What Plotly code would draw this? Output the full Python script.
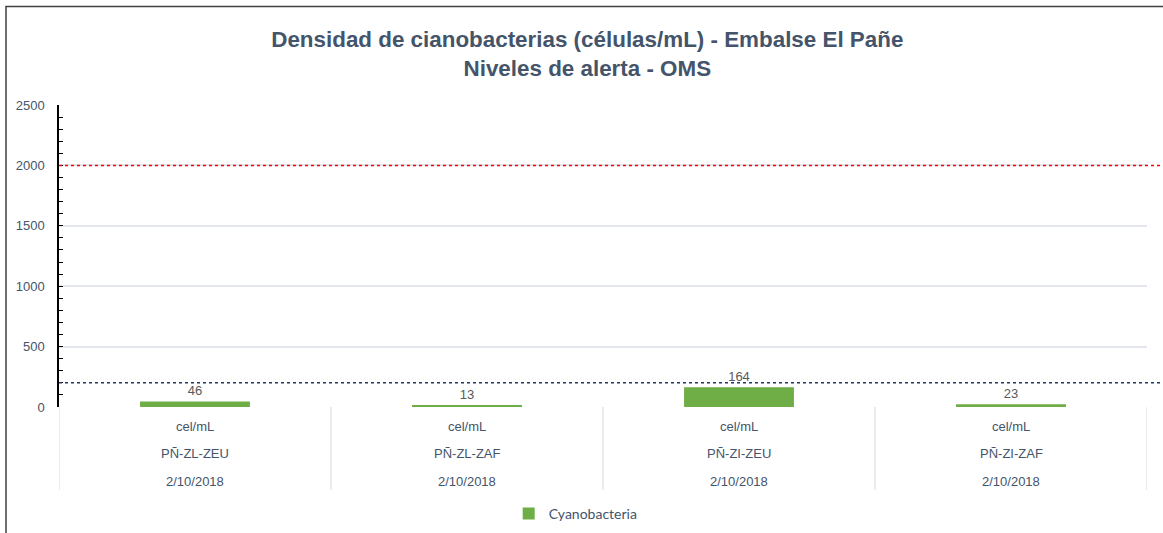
import plotly.graph_objects as go

units = ["cel/mL", "cel/mL", "cel/mL", "cel/mL"]
stations = ["PÑ-ZL-ZEU", "PÑ-ZL-ZAF", "PÑ-ZI-ZEU", "PÑ-ZI-ZAF"]
dates = ["2/10/2018", "2/10/2018", "2/10/2018", "2/10/2018"]
cyano = [46, 13, 164, 23]
alert_levels = [200, 2000]
alert_colors = ["#1F3864", "#FF0000"]
y_ticks = [0, 500, 1000, 1500, 2000, 2500]

TXT = "#44546A"
NARROW = "Liberation Sans Narrow, Arial Narrow, Liberation Sans, Arial, sans-serif"

xs = list(range(len(cyano)))

fig = go.Figure()
fig.add_trace(go.Bar(
    x=xs, y=cyano, name="Cyanobacteria", width=0.404,
    marker=dict(color="#6FAD46", line=dict(width=0)),
    text=[str(v) for v in cyano], textposition="outside",
    textfont=dict(family=NARROW, size=13, color="#595959"),
    cliponaxis=False,
))

# alert lines
for lvl, col in zip(alert_levels, alert_colors):
    fig.add_shape(type="line", xref="paper", yref="y", x0=0, x1=1.0147,
                  y0=lvl, y1=lvl, line=dict(color=col, width=1.5, dash="dot"))

# category separators
n = len(cyano)
for i in range(n + 1):
    fig.add_shape(type="line", xref="x", yref="paper", x0=i - 0.5, x1=i - 0.5,
                  y0=0, y1=-0.275, line=dict(color="#E3E6EC", width=1.5))

# multi-level labels
rows = [(units, -0.066), (stations, -0.155), (dates, -0.248)]
for labels, yp in rows:
    for i, lab in enumerate(labels):
        fig.add_annotation(x=i, y=yp, xref="x", yref="paper", text=lab,
                           showarrow=False, yanchor="middle",
                           font=dict(family=NARROW, size=13, color=TXT))

# outer border
fig.add_shape(type="rect", xref="paper", yref="paper",
              x0=-0.0487, x1=1.05, y0=-0.6, y1=1.3263,
              line=dict(color="#404040", width=1.5), fillcolor="rgba(0,0,0,0)")

fig.update_layout(
    width=1163, height=533,
    margin=dict(l=59, r=16, t=105, b=126, autoexpand=False),
    paper_bgcolor="white", plot_bgcolor="white",
    title=dict(text="<b>Densidad de cianobacterias (células/mL) - Embalse El Pañe<br>Niveles de alerta - OMS</b>",
               xref="container", yref="container",
               x=0.505, xanchor="center", y=0.912, yanchor="top",
               font=dict(family=NARROW, size=22.4, color=TXT)),
    bargap=0.6,
    showlegend=True,
    legend=dict(orientation="h", xref="container", yref="container",
                x=0.495, xanchor="center", y=0.036, yanchor="middle",
                font=dict(family="Lato, Open Sans, sans-serif", size=14, color=TXT),
                itemwidth=30),
    xaxis=dict(range=[-0.5, n - 0.5], showticklabels=False, showgrid=False,
               zeroline=False, showline=False, ticks=""),
    yaxis=dict(range=[0, 2500], tickvals=y_ticks, showgrid=True, gridcolor="#E3E6EC",
               gridwidth=1.5, zeroline=False, showline=True, linecolor="#000000", linewidth=1.5,
               ticks="inside", ticklen=4, tickcolor="#000000",
               ticklabelstandoff=10,
               minor=dict(dtick=100, ticks="inside", ticklen=4, tickcolor="#000000", showgrid=False),
               tickfont=dict(family=NARROW, size=13, color=TXT)),
)

fig.write_html("out.html", config={"displayModeBar": False},
               post_script="document.body.style.margin='0px';document.body.style.overflow='hidden';")
